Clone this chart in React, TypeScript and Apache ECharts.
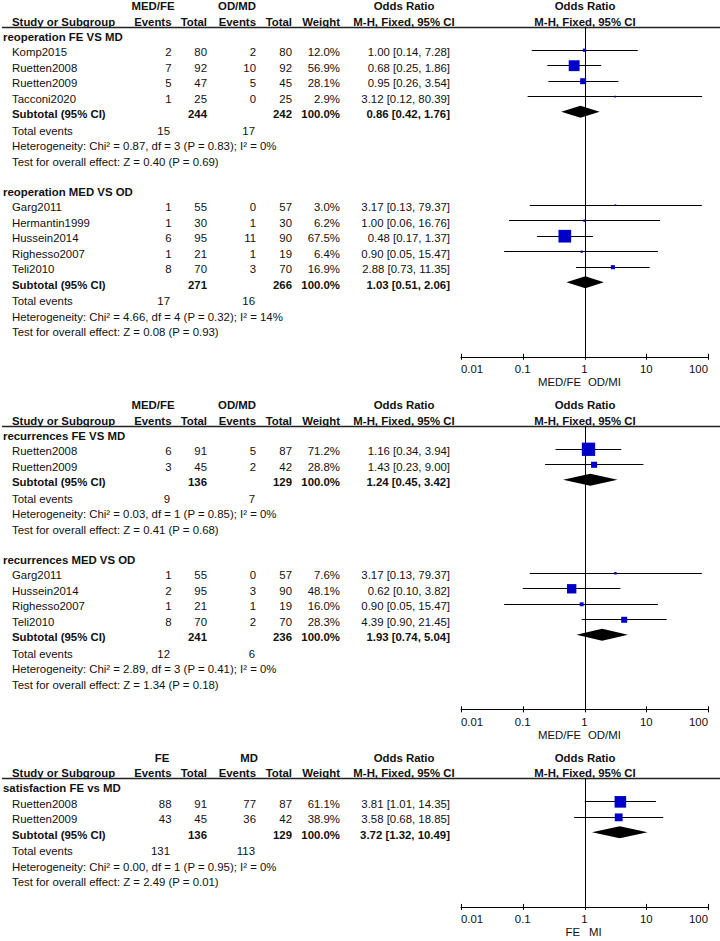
import React, { useEffect, useRef } from "react";
import * as echarts from "echarts";

// ---------------- data ----------------
// [study, events (exp), total (exp), events (ctl), total (ctl), weight %, OR, lower 95% CI, upper 95% CI]
const reoperationFeMd = [
  ["Komp2015", 2, 80, 2, 80, 12.0, 1.0, 0.14, 7.28],
  ["Ruetten2008", 7, 92, 10, 92, 56.9, 0.68, 0.25, 1.86],
  ["Ruetten2009", 5, 47, 5, 45, 28.1, 0.95, 0.26, 3.54],
  ["Tacconi2020", 1, 25, 0, 25, 2.9, 3.12, 0.12, 80.39],
];
// [total (exp), total (ctl), weight %, OR, lower, upper, total events (exp), total events (ctl)]
const reoperationFeMdSubtotal = [244, 242, 100.0, 0.86, 0.42, 1.76, 15, 17];
const reoperationFeMdStats = [
  "Heterogeneity: Chi² = 0.87, df = 3 (P = 0.83); I² = 0%",
  "Test for overall effect: Z = 0.40 (P = 0.69)",
];

const reoperationMedOd = [
  ["Garg2011", 1, 55, 0, 57, 3.0, 3.17, 0.13, 79.37],
  ["Hermantin1999", 1, 30, 1, 30, 6.2, 1.0, 0.06, 16.76],
  ["Hussein2014", 6, 95, 11, 90, 67.5, 0.48, 0.17, 1.37],
  ["Righesso2007", 1, 21, 1, 19, 6.4, 0.9, 0.05, 15.47],
  ["Teli2010", 8, 70, 3, 70, 16.9, 2.88, 0.73, 11.35],
];
const reoperationMedOdSubtotal = [271, 266, 100.0, 1.03, 0.51, 2.06, 17, 16];
const reoperationMedOdStats = [
  "Heterogeneity: Chi² = 4.66, df = 4 (P = 0.32); I² = 14%",
  "Test for overall effect: Z = 0.08 (P = 0.93)",
];

const recurrencesFeMd = [
  ["Ruetten2008", 6, 91, 5, 87, 71.2, 1.16, 0.34, 3.94],
  ["Ruetten2009", 3, 45, 2, 42, 28.8, 1.43, 0.23, 9.0],
];
const recurrencesFeMdSubtotal = [136, 129, 100.0, 1.24, 0.45, 3.42, 9, 7];
const recurrencesFeMdStats = [
  "Heterogeneity: Chi² = 0.03, df = 1 (P = 0.85); I² = 0%",
  "Test for overall effect: Z = 0.41 (P = 0.68)",
];

const recurrencesMedOd = [
  ["Garg2011", 1, 55, 0, 57, 7.6, 3.17, 0.13, 79.37],
  ["Hussein2014", 2, 95, 3, 90, 48.1, 0.62, 0.1, 3.82],
  ["Righesso2007", 1, 21, 1, 19, 16.0, 0.9, 0.05, 15.47],
  ["Teli2010", 8, 70, 2, 70, 28.3, 4.39, 0.9, 21.45],
];
const recurrencesMedOdSubtotal = [241, 236, 100.0, 1.93, 0.74, 5.04, 12, 6];
const recurrencesMedOdStats = [
  "Heterogeneity: Chi² = 2.89, df = 3 (P = 0.41); I² = 0%",
  "Test for overall effect: Z = 1.34 (P = 0.18)",
];

const satisfactionFeMd = [
  ["Ruetten2008", 88, 91, 77, 87, 61.1, 3.81, 1.01, 14.35],
  ["Ruetten2009", 43, 45, 36, 42, 38.9, 3.58, 0.68, 18.85],
];
const satisfactionFeMdSubtotal = [136, 129, 100.0, 3.72, 1.32, 10.49, 131, 113];
const satisfactionFeMdStats = [
  "Heterogeneity: Chi² = 0.00, df = 1 (P = 0.95); I² = 0%",
  "Test for overall effect: Z = 2.49 (P = 0.01)",
];

const tickValues = [0.01, 0.1, 1, 10, 100];
const tickLabels = ["0.01", "0.1", "1", "10", "100"];
const columnHeads = ["Study or Subgroup", "Events", "Total", "Events", "Total", "Weight", "M-H, Fixed, 95% CI"];

const sections = [
  {
    groups: ["MED/FE", "OD/MD"],
    favours: ["MED/FE", "OD/MI"],
    subgroups: [
      { name: "reoperation FE VS MD", studies: reoperationFeMd, subtotal: reoperationFeMdSubtotal, stats: reoperationFeMdStats },
      { name: "reoperation MED VS OD", studies: reoperationMedOd, subtotal: reoperationMedOdSubtotal, stats: reoperationMedOdStats },
    ],
  },
  {
    groups: ["MED/FE", "OD/MD"],
    favours: ["MED/FE", "OD/MI"],
    subgroups: [
      { name: "recurrences FE VS MD", studies: recurrencesFeMd, subtotal: recurrencesFeMdSubtotal, stats: recurrencesFeMdStats },
      { name: "recurrences MED VS OD", studies: recurrencesMedOd, subtotal: recurrencesMedOdSubtotal, stats: recurrencesMedOdStats },
    ],
  },
  {
    groups: ["FE", "MD"],
    favours: ["FE", "MI"],
    subgroups: [
      { name: "satisfaction FE vs MD", studies: satisfactionFeMd, subtotal: satisfactionFeMdSubtotal, stats: satisfactionFeMdStats },
    ],
  },
];

// ---------------- layout / style ----------------
const FONT = "'Liberation Sans', Arial, Helvetica, sans-serif";
const FS = 11.4;
const INK = "#111";
const BLUE = "#0000c8";
const ROW = 15.5;
const FIRST_HEAD_Y = 21.7;
const HEAD_TO_ROW0 = 15;
const RULE_GAP = 5;
const LABEL_ABOVE = 15.7;
const AXIS_GAP_ROWS = 1.65;
const SECTION_GAP = 64;
const MARK_SHIFT = -2.5;
const PLOT_LEFT = 461;
const PLOT_WIDTH = 247;
const COL = { group: 3, name: 12, e1: 171.5, n1: 207, e2: 256, n2: 292, w: 340, orText: 450, orHead: 404, plotHead: 585 };
const GROUP_X = [
  [153, 237],
  [153, 237],
  [162, 249],
];
const FAVOURS_X = [
  [581, 588],
  [581, 588],
  [580, 589],
];

const f2 = (v: number) => v.toFixed(2);
const orStr = (or: number, lo: number, hi: number) => `${f2(or)} [${f2(lo)}, ${f2(hi)}]`;
const squareSide = (w: number) => 0.17 * w + 1.2;
const crisp = (v: number) => Math.round(v) + 0.5;

function txt(text: string, x: number, y: number, align = "left", bold = false, size = FS) {
  return {
    type: "text",
    x,
    y,
    silent: true,
    style: {
      text,
      fontFamily: FONT,
      fontSize: size,
      fontWeight: bold ? "bold" : "normal",
      fill: INK,
      align,
      verticalAlign: "middle",
    },
  };
}

function buildOption() {
  const grids: any[] = [];
  const xAxes: any[] = [];
  const yAxes: any[] = [];
  const series: any[] = [];
  const graphic: any[] = [];
  let T = FIRST_HEAD_Y;

  sections.forEach((sec, si) => {
    const row0 = T + HEAD_TO_ROW0;
    const yOf = (k: number) => row0 + k * ROW;
    const kMin = (RULE_GAP - HEAD_TO_ROW0) / ROW;

    // header block
    const gy = T - LABEL_ABOVE;
    graphic.push(txt(sec.groups[0], GROUP_X[si][0], gy, "center", true));
    graphic.push(txt(sec.groups[1], GROUP_X[si][1], gy, "center", true));
    graphic.push(txt("Odds Ratio", COL.orHead, gy, "center", true));
    graphic.push(txt("Odds Ratio", COL.plotHead, gy, "center", true));
    graphic.push(txt(columnHeads[0], COL.name, T, "left", true));
    graphic.push(txt(columnHeads[1], COL.e1, T, "right", true));
    graphic.push(txt(columnHeads[2], COL.n1, T, "right", true));
    graphic.push(txt(columnHeads[3], COL.e2, T, "right", true));
    graphic.push(txt(columnHeads[4], COL.n2, T, "right", true));
    graphic.push(txt(columnHeads[5], COL.w, T, "right", true));
    graphic.push(txt(columnHeads[6], COL.orHead, T, "center", true));
    graphic.push(txt(columnHeads[6], COL.plotHead, T, "center", true));
    graphic.push({
      type: "line",
      silent: true,
      shape: { x1: 2, y1: crisp(T + RULE_GAP), x2: 720, y2: crisp(T + RULE_GAP) },
      style: { stroke: "#222", lineWidth: 1.3 },
    });

    let k = 0;
    const studyPts: any[] = [];
    const diamondPts: any[] = [];
    sec.subgroups.forEach((sg, gi) => {
      if (gi > 0) k += 1;
      graphic.push(txt(sg.name, COL.group, yOf(k), "left", true));
      k++;
      sg.studies.forEach((st: any[]) => {
        const y = yOf(k);
        graphic.push(txt(st[0], COL.name, y));
        graphic.push(txt(String(st[1]), COL.e1, y, "right"));
        graphic.push(txt(String(st[2]), COL.n1, y, "right"));
        graphic.push(txt(String(st[3]), COL.e2, y, "right"));
        graphic.push(txt(String(st[4]), COL.n2, y, "right"));
        graphic.push(txt(st[5].toFixed(1) + "%", COL.w, y, "right"));
        graphic.push(txt(orStr(st[6], st[7], st[8]), COL.orText, y, "right"));
        studyPts.push([st[6], st[7], st[8], k, st[5]]);
        k++;
      });
      const s = sg.subtotal;
      let y = yOf(k);
      graphic.push(txt("Subtotal (95% CI)", COL.name, y, "left", true));
      graphic.push(txt(String(s[0]), COL.n1, y, "right", true));
      graphic.push(txt(String(s[1]), COL.e2 + (COL.n2 - COL.e2), y, "right", true));
      graphic.push(txt(s[2].toFixed(1) + "%", COL.w, y, "right", true));
      graphic.push(txt(orStr(s[3], s[4], s[5]), COL.orText, y, "right", true));
      diamondPts.push([s[3], s[4], s[5], k]);
      k++;
      y = yOf(k) + 1;
      graphic.push(txt("Total events", COL.name, y));
      graphic.push(txt(String(s[6]), COL.e1 - 1.5, y, "right"));
      graphic.push(txt(String(s[7]), COL.e2 - 1, y, "right"));
      k++;
      graphic.push(txt(sg.stats[0], COL.name, yOf(k) + 1));
      k++;
      graphic.push(txt(sg.stats[1], COL.name, yOf(k) + 1));
      k++;
    });
    const lastK = k - 1;
    const kMax = lastK + AXIS_GAP_ROWS;
    const top = yOf(kMin);
    const bottom = yOf(kMax);

    grids.push({ left: PLOT_LEFT, width: PLOT_WIDTH, top, height: bottom - top, containLabel: false, show: false });
    xAxes.push({
      gridIndex: si,
      type: "log",
      logBase: 10,
      min: tickValues[0],
      max: tickValues[tickValues.length - 1],
      axisLine: { show: true, onZero: false, lineStyle: { color: "#000", width: 1 } },
      axisTick: { show: false },
      splitLine: { show: false },
      axisLabel: {
        margin: 7,
        fontSize: FS,
        fontFamily: FONT,
        color: INK,
        alignMinLabel: "left",
        alignMaxLabel: "right",
        formatter: (v: number) => {
          const i = tickValues.findIndex((t) => Math.abs(Math.log10(t) - Math.log10(v)) < 1e-6);
          return i >= 0 ? tickLabels[i] : "";
        },
      },
    });
    yAxes.push({ gridIndex: si, type: "value", inverse: true, min: kMin, max: kMax, show: false });

    // reference line at OR = 1
    series.push({
      type: "custom",
      xAxisIndex: si,
      yAxisIndex: si,
      silent: true,
      clip: false,
      encode: { x: 0, y: 1 },
      data: [[1, kMin, kMax]],
      renderItem: (p: any, api: any) => {
        const a = api.coord([api.value(0), api.value(1)]);
        const b = api.coord([api.value(0), api.value(2)]);
        const x = crisp(a[0]);
        return { type: "line", shape: { x1: x, y1: a[1], x2: x, y2: b[1] }, style: { stroke: "#000", lineWidth: 1 } };
      },
    });
    // axis ticks (crossing the axis line)
    series.push({
      type: "custom",
      xAxisIndex: si,
      yAxisIndex: si,
      silent: true,
      clip: false,
      encode: { x: 0, y: 1 },
      data: tickValues.map((v) => [v, kMax]),
      renderItem: (p: any, api: any) => {
        const c = api.coord([api.value(0), api.value(1)]);
        const x = crisp(c[0]);
        return { type: "line", shape: { x1: x, y1: c[1] - 3, x2: x, y2: c[1] + 3 }, style: { stroke: "#000", lineWidth: 1 } };
      },
    });
    // study CIs and weighted squares
    series.push({
      type: "custom",
      xAxisIndex: si,
      yAxisIndex: si,
      silent: true,
      clip: false,
      encode: { x: 0, y: 3 },
      data: studyPts,
      renderItem: (p: any, api: any) => {
        const kk = api.value(3);
        const a = api.coord([api.value(1), kk]);
        const b = api.coord([api.value(2), kk]);
        const c = api.coord([api.value(0), kk]);
        const y = c[1] + MARK_SHIFT;
        const s = squareSide(api.value(4));
        return {
          type: "group",
          children: [
            { type: "line", shape: { x1: a[0], y1: crisp(y), x2: b[0], y2: crisp(y) }, style: { stroke: "#000", lineWidth: 1 } },
            { type: "rect", shape: { x: c[0] - s / 2, y: y - s / 2 + 0.5, width: s, height: s }, style: { fill: BLUE } },
          ],
        };
      },
    });
    // subtotal diamonds
    series.push({
      type: "custom",
      xAxisIndex: si,
      yAxisIndex: si,
      silent: true,
      clip: false,
      encode: { x: 0, y: 3 },
      data: diamondPts,
      renderItem: (p: any, api: any) => {
        const kk = api.value(3);
        const a = api.coord([api.value(1), kk]);
        const b = api.coord([api.value(2), kk]);
        const c = api.coord([api.value(0), kk]);
        const y = c[1] + MARK_SHIFT;
        const h = 6;
        return {
          type: "polygon",
          shape: { points: [[a[0], y], [c[0], y - h], [b[0], y], [c[0], y + h]] },
          style: { fill: "#000" },
        };
      },
    });

    graphic.push(txt(sec.favours[0], FAVOURS_X[si][0], bottom + 25.5, "right"));
    graphic.push(txt(sec.favours[1], FAVOURS_X[si][1], bottom + 25.5, "left"));

    T = bottom + SECTION_GAP;
  });

  return {
    animation: false,
    backgroundColor: "#fff",
    textStyle: { fontFamily: FONT },
    grid: grids,
    xAxis: xAxes,
    yAxis: yAxes,
    series,
    graphic: { elements: graphic },
  };
}

export default function App() {
  const ref = useRef<HTMLDivElement>(null);
  useEffect(() => {
    if (!ref.current) return;
    const chart = echarts.init(ref.current, null, { renderer: "svg" });
    chart.setOption(buildOption() as any);
    return () => chart.dispose();
  }, []);
  return (
    <div
      ref={ref}
      style={{ position: "fixed", left: 0, top: 0, width: 720, height: 941, background: "#fff" }}
    />
  );
}
